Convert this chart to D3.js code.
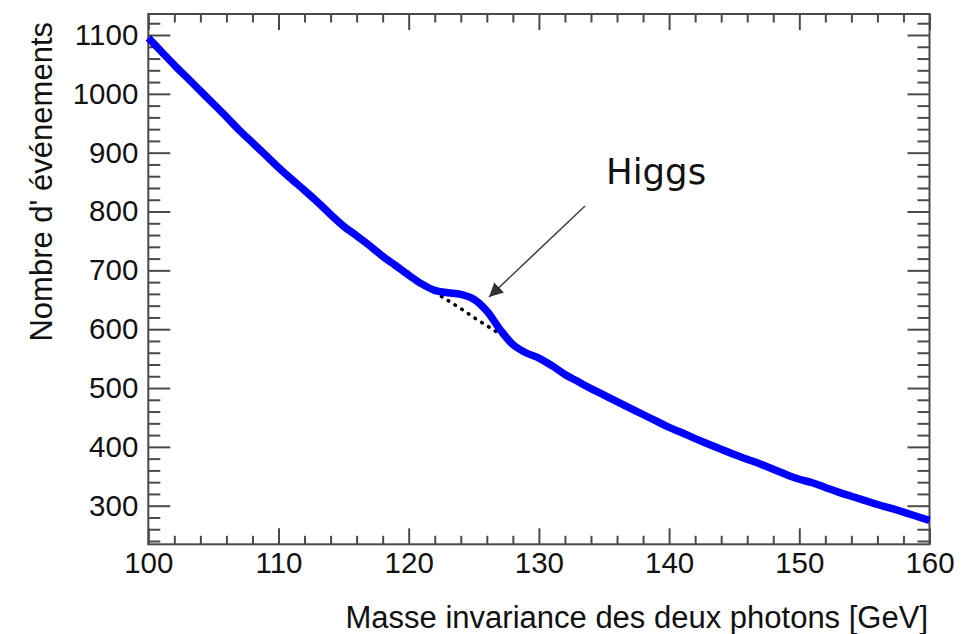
<!DOCTYPE html>
<html>
<head>
<meta charset="utf-8">
<script src="https://cdn.jsdelivr.net/npm/d3@7"></script>
<style>
  html, body { margin: 0; padding: 0; background: #fff; }
  svg { display: block; }
  text { font-family: "Liberation Sans", Arial, Helvetica, sans-serif; fill: #111; }
</style>
</head>
<body>
<svg id="chart" width="968" height="634"></svg>
<script>
// Diphoton invariant mass spectrum (GeV) and event counts
const masses = d3.range(100, 161);
const events = [
  1095, 1072, 1049, 1027, 1005, 983, 961, 938, 917, 896,
  875, 855, 836, 816, 795, 775, 759, 742, 724, 708,
  692, 677, 666, 662, 659, 651, 631, 600, 574, 560,
  551, 538, 523, 511, 499, 488, 477, 466, 455, 444,
  433, 424, 414, 405, 396, 387, 379, 371, 362, 353,
  345, 339, 331, 323, 316, 309, 302, 296, 289, 282,
  275
];
// Smooth background under the signal region
const bkgMasses = [122, 123, 124, 125, 126, 127, 127.8];
const bkgEvents = [663, 649, 635, 620, 606, 592, 581];

const xMajor = [100, 110, 120, 130, 140, 150, 160];
const xMinor = d3.range(100, 161, 2).filter(v => v % 10 !== 0);
const yMajor = [300, 400, 500, 600, 700, 800, 900, 1000, 1100];
const yMinor = d3.range(240, 1121, 20).filter(v => v % 100 !== 0);

const xTitle = "Masse invariance des deux photons [GeV]";
const yTitle = "Nombre d' événements";
const note = "Higgs";

const svg = d3.select("#chart");
const frameL = 148.3, frameR = 929.5, frameT = 14, frameB = 544.3;

const x = d3.scaleLinear().domain([100, 160]).range([frameL, frameR]);
const y = d3.scaleLinear().domain([234.4, 1135.7]).range([frameB, frameT]);

const axisColor = "#4a4a4a";
const fmt = d3.format("d");

function styleAxis(g) {
  g.attr("font-size", 29.5).attr("font-family", "Liberation Sans, Arial, sans-serif");
  g.select(".domain").remove();
  g.selectAll(".tick line").attr("stroke", axisColor).attr("stroke-width", 2);
  g.selectAll(".tick text").attr("fill", "#111");
}

// bottom axis
svg.append("g").attr("transform", `translate(0,${frameB})`)
  .call(d3.axisBottom(x).tickValues(xMajor).tickFormat(fmt).tickSize(-16).tickSizeOuter(0).tickPadding(8))
  .call(styleAxis);
svg.append("g").attr("transform", `translate(0,${frameB})`)
  .call(d3.axisBottom(x).tickValues(xMinor).tickSize(-8.5).tickSizeOuter(0).tickFormat(""))
  .call(styleAxis);
// top axis
svg.append("g").attr("transform", `translate(0,${frameT})`)
  .call(d3.axisTop(x).tickValues(xMajor).tickSize(-16).tickSizeOuter(0).tickFormat(""))
  .call(styleAxis);
svg.append("g").attr("transform", `translate(0,${frameT})`)
  .call(d3.axisTop(x).tickValues(xMinor).tickSize(-8.5).tickSizeOuter(0).tickFormat(""))
  .call(styleAxis);
// left axis
svg.append("g").attr("transform", `translate(${frameL},0)`)
  .call(d3.axisLeft(y).tickValues(yMajor).tickFormat(fmt).tickSize(-22).tickSizeOuter(0).tickPadding(10))
  .call(styleAxis);
svg.append("g").attr("transform", `translate(${frameL},0)`)
  .call(d3.axisLeft(y).tickValues(yMinor).tickSize(-12).tickSizeOuter(0).tickFormat(""))
  .call(styleAxis);
// right axis
svg.append("g").attr("transform", `translate(${frameR},0)`)
  .call(d3.axisRight(y).tickValues(yMajor).tickSize(-22).tickSizeOuter(0).tickFormat(""))
  .call(styleAxis);
svg.append("g").attr("transform", `translate(${frameR},0)`)
  .call(d3.axisRight(y).tickValues(yMinor).tickSize(-12).tickSizeOuter(0).tickFormat(""))
  .call(styleAxis);

// frame
svg.append("rect")
  .attr("x", frameL).attr("y", frameT)
  .attr("width", frameR - frameL).attr("height", frameB - frameT)
  .attr("fill", "none").attr("stroke", axisColor).attr("stroke-width", 2);

// background dotted line
const bkgLine = d3.line().x(d => x(d[0])).y(d => y(d[1])).curve(d3.curveMonotoneX);
svg.append("path")
  .datum(bkgMasses.map((m, i) => [m, bkgEvents[i]]))
  .attr("d", bkgLine)
  .attr("fill", "none").attr("stroke", "#000")
  .attr("stroke-width", 3.6).attr("stroke-linecap", "round")
  .attr("stroke-dasharray", "0.5 7.5");

// spectrum
const line = d3.line().x(d => x(d[0])).y(d => y(d[1])).curve(d3.curveCatmullRom.alpha(0.5));
svg.append("path")
  .datum(masses.map((m, i) => [m, events[i]]))
  .attr("d", line)
  .attr("fill", "none").attr("stroke", "#0000ff")
  .attr("stroke-width", 7.5).attr("stroke-linejoin", "round").attr("stroke-linecap", "butt");

// annotation arrow
svg.append("defs").append("marker")
  .attr("id", "head").attr("viewBox", "0 0 10 10")
  .attr("refX", 10).attr("refY", 5)
  .attr("markerWidth", 14).attr("markerHeight", 14)
  .attr("markerUnits", "userSpaceOnUse")
  .attr("orient", "auto")
  .append("path").attr("d", "M0,0 L10,5 L0,10 Z").attr("fill", "#333");
svg.append("line")
  .attr("x1", 585).attr("y1", 206).attr("x2", 489).attr("y2", 297)
  .attr("stroke", "#444").attr("stroke-width", 1.6)
  .attr("marker-end", "url(#head)");
svg.append("text")
  .attr("x", 606).attr("y", 184)
  .attr("font-size", 35.5).attr("fill", "#000")
  .style("font-family", "'DejaVu Sans', Verdana, sans-serif")
  .text(note);

// axis titles
svg.append("text")
  .attr("x", 928).attr("y", 628)
  .attr("text-anchor", "end")
  .attr("font-size", 31)
  .text(xTitle);
svg.append("text")
  .attr("transform", "translate(52,22) rotate(-90)")
  .attr("text-anchor", "end")
  .attr("font-size", 31)
  .text(yTitle);
</script>
</body>
</html>
